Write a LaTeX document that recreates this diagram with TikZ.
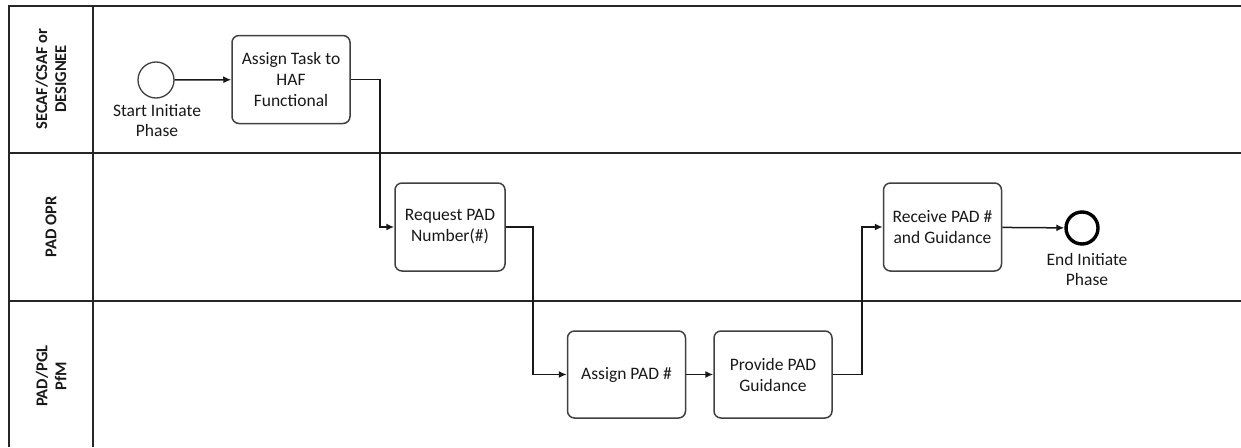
\documentclass[tikz,border=0pt]{standalone}
\usepackage{fontspec}
\setmainfont{Carlito}
\usetikzlibrary{arrows.meta}
\begin{document}
\begin{tikzpicture}[x=1pt,y=-1pt,
  lane/.style={line width=2.2pt,draw=black!85},
  lanelabel/.style={rotate=90,align=center,font=\fontsize{16.5}{19}\selectfont\bfseries,text=black!90},
  task/.style={draw=black!75,line width=1.5pt,rounded corners=7pt,fill=white,
    minimum width=118pt,minimum height=88pt,align=center,inner sep=2pt,
    font=\fontsize{17.5}{21}\selectfont,text=black!90},
  event/.style={circle,draw=black!75,line width=1.3pt,minimum size=36pt,inner sep=0pt},
  endevent/.style={circle,draw=black,line width=3.4pt,minimum size=32pt,inner sep=0pt},
  evlabel/.style={align=center,font=\fontsize{17.5}{20}\selectfont,text=black!90},
  flow/.style={line width=1.5pt,draw=black!90,-{Latex[length=8pt,width=7pt]}}]
\useasboundingbox (0,0) rectangle (1241,447);
% pool frame and lanes
\draw[lane] (9,447) -- (9,6) -- (1241,6);
\draw[lane] (93,6) -- (93,447);
\draw[lane] (9,153) -- (1241,153);
\draw[lane] (9,301) -- (1241,301);
\node[lanelabel] (l1) at (51,79) {SECAF/CSAF or\\DESIGNEE};
\node[lanelabel] (l2) at (51,227) {PAD OPR};
\node[lanelabel] (l3) at (51,376) {PAD/PGL\\PfM};
% events
\node[event] (start) at (156,80) {};
\node[evlabel,anchor=north] (startlbl) at (157,101) {Start Initiate\\Phase};
\node[endevent] (finish) at (1082,228) {};
\node[evlabel,anchor=north] (finishlbl) at (1087,250) {End Initiate\\Phase};
% tasks
\node[task] (assign) at (291,79.5) {Assign Task to\\HAF\\Functional};
\node[task,minimum width=110pt] (request) at (450,227) {Request PAD\\Number(\#)};
\node[task,minimum height=87pt] (assignpad) at (626.5,374.5) {Assign PAD \#};
\node[task,minimum height=87pt] (provide) at (773,374.5) {Provide PAD\\Guidance};
\node[task] (receive) at (942.5,227) {Receive PAD \#\\and Guidance};
% sequence flows
\draw[flow] (start) -- (assign);
\draw[flow] (assign.east) -- ++(29,0) |- (request.west);
\draw[flow] (request.east) -- ++(27,0) |- (assignpad.west);
\draw[flow] (assignpad) -- (provide);
\draw[flow] (provide.east) -- ++(29,0) |- (receive.west);
\draw[flow] (receive) -- (finish);
\end{tikzpicture}
\end{document}
